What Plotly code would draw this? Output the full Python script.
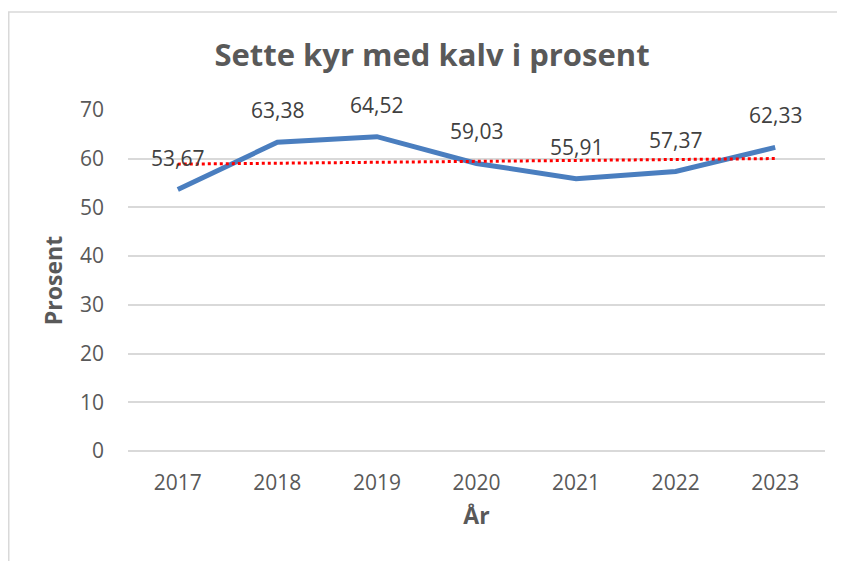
import numpy as np
import plotly.graph_objects as go

# data
years = ["2017", "2018", "2019", "2020", "2021", "2022", "2023"]
prosent = [53.67, 63.38, 64.52, 59.03, 55.91, 57.37, 62.33]

# linear trendline, like the one Excel adds
xi = np.arange(len(years))
slope, icept = np.polyfit(xi, prosent, 1)
trend = slope * xi + icept

grey = "#595959"
font = "Open Sans"

fig = go.Figure()

fig.add_trace(go.Scatter(
    x=years, y=prosent,
    mode="lines",
    line=dict(color="#4A7EBF", width=5),
    showlegend=False,
))

fig.add_trace(go.Scatter(
    x=years, y=trend,
    mode="lines",
    line=dict(color="#FF0000", width=3, dash="dot"),
    showlegend=False,
))

# data labels sit well above each point, with a decimal comma
# (x given as category index, numeric-looking strings confuse the axis)
for i, v in enumerate(prosent):
    fig.add_annotation(
        x=i, y=v, text=f"{v:.2f}".replace(".", ","),
        showarrow=False, yshift=32,
        font=dict(family=font, size=21, color="#404040"),
    )

fig.update_layout(
    width=837, height=553,
    margin=dict(l=120, r=20, t=102, b=110),
    paper_bgcolor="white",
    plot_bgcolor="white",
    title=dict(
        text="<b>Sette kyr med kalv i prosent</b>",
        x=0.5066, xanchor="center",
        y=0.915, yanchor="middle",
        font=dict(family=font, size=31, color=grey),
    ),
    font=dict(family=font, color=grey),
)

fig.update_xaxes(
    type="category",
    range=[-0.5, 6.5],
    showgrid=False,
    showline=False,
    zeroline=False,
    ticks="",
    ticklabelstandoff=17,
    tickfont=dict(size=21, color=grey),
    title=dict(text="<b>År</b>", font=dict(size=23, color=grey), standoff=12),
)

fig.update_yaxes(
    range=[0, 70],
    dtick=10,
    showgrid=True,
    gridcolor="#D9D9D9",
    gridwidth=1.5,
    zeroline=True,
    zerolinecolor="#D9D9D9",
    zerolinewidth=1.5,
    ticks="",
    ticklabelstandoff=23,
    tickfont=dict(size=21, color=grey),
    title=dict(text="<b>Prosent</b>", font=dict(size=23, color=grey), standoff=10),
)

# light grey chart border, running off the right and bottom edges
fig.add_shape(
    type="rect", xref="paper", yref="paper",
    x0=-0.1711, x1=1.05, y0=-0.5, y1=1.2874,
    line=dict(color="#D9D9D9", width=1.5),
    fillcolor="rgba(0,0,0,0)",
    layer="below",
)

fig.write_html("out.html")
